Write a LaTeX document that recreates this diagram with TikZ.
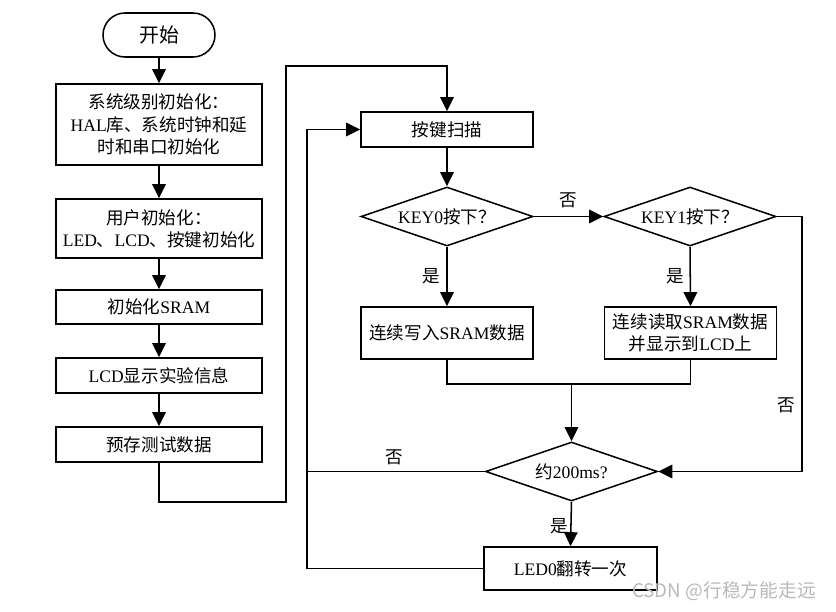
\documentclass[tikz,border=0pt]{standalone}
\usepackage{fontspec}
\setmainfont{Liberation Serif}
\newfontfamily\cjk{Noto Sans CJK SC}
\usetikzlibrary{shapes.geometric,arrows.meta}
\tikzset{
	box/.style={draw, rectangle, line width=1.3pt, minimum width=6.18cm, align=center, inner sep=1pt},
	term/.style={draw, rectangle, rounded corners=0.66cm, line width=1.3pt, minimum width=3.36cm, minimum height=1.32cm, font=\fontsize{17pt}{20pt}\selectfont},
	decide/.style={draw, diamond, aspect=2.9, line width=1.3pt, minimum width=5.16cm, minimum height=1.77cm, inner sep=0pt},
	lbl/.style={inner sep=1pt}
}
\begin{document}
\begin{tikzpicture}[x=0.03cm, y=-0.03cm, line width=1.3pt, >={Triangle[length=12pt,width=11.5pt]}, font=\fontsize{15pt}{19pt}\selectfont]
	\useasboundingbox (0,0) rectangle (836,611);
	% left column
	\node[term] (start) at (159,35) {{\cjk 开始}};
	\node[box, minimum height=2.43cm] (sysinit) at (159,124.5) {{\cjk 系统级别初始化：}\\HAL{\cjk 库、系统时钟和延}\\{\cjk 时和串口初始化}};
	\node[box, minimum height=1.77cm] (userinit) at (159,228.5) {{\cjk 用户初始化：}\\LED{\cjk 、}LCD{\cjk 、按键初始化}};
	\node[box, minimum height=1.02cm] (sram) at (159,307) {{\cjk 初始化}SRAM};
	\node[box, minimum height=1.05cm] (lcdinfo) at (159,375.5) {LCD{\cjk 显示实验信息}};
	\node[box, minimum height=1.05cm] (pretest) at (159,444.5) {{\cjk 预存测试数据}};
	% main loop
	\node[box, minimum width=5.16cm, minimum height=1.05cm] (scan) at (447,129.5) {{\cjk 按键扫描}};
	\node[decide] (key0) at (447,216.5) {KEY0{\cjk 按下？}};
	\node[decide] (key1) at (690,216.5) {KEY1{\cjk 按下？}};
	\node[box, minimum width=5.16cm, minimum height=1.56cm] (write) at (447,333) {{\cjk 连续写入}SRAM{\cjk 数据}};
	\node[box, minimum width=5.16cm, minimum height=1.56cm] (read) at (690.5,333) {{\cjk 连续读取}SRAM{\cjk 数据}\\{\cjk 并显示到}LCD{\cjk 上}};
	\node[decide] (wait) at (571.5,471.5) {{\cjk 约}200ms?};
	\node[box, minimum width=5.19cm, minimum height=1.29cm] (led) at (570.5,568.5) {LED0{\cjk 翻转一次}};

	\coordinate (low) at (286,502);
	\coordinate (high) at (286,66);
	\coordinate (merge) at (571.5,384);
	\coordinate (rside) at (802,471.5);
	\coordinate (lnoend) at (307,471.5);
	\coordinate (lback) at (307,129.5);

	\path[draw,->] (start) -- (sysinit);
	\path[draw,->] (sysinit) -- (userinit);
	\path[draw,->] (userinit) -- (sram);
	\path[draw,->] (sram) -- (lcdinfo);
	\path[draw,->] (lcdinfo) -- (pretest);
	\path[draw,->] (pretest.south) |- (low) -- (high) -| (scan.north);
	\path[draw,->] (scan) -- (key0);
	\path[draw,->] (key0.east) -- node[lbl, above=6pt] (no0) {\cjk 否} (key1.west);
	\path[draw,->] (key0.south) -- node[lbl, left=4pt, pos=0.5] (yes0) {\cjk 是} (write.north);
	\path[draw,->] (key1.south) -- node[lbl, left=4pt, pos=0.5] (yes1) {\cjk 是} (read.north);
	\path[draw,->] (key1.east) -| node[lbl, pos=0.87, left=4pt] (no1) {\cjk 否} (rside) -- (wait.east);
	\draw (write.south) |- (merge) -| (read.south);
	\path[draw,->] (merge) -- (wait.north);
	\path[draw,->] (wait.south) -- node[lbl, left=1pt, pos=0.55] (yes2) {\cjk 是} (led.north);
	\draw (wait.west) -- node[lbl, above=4pt, pos=0.51] (no2) {\cjk 否} (lnoend);
	\path[draw,->] (led.west) -| (lback) -- (scan.west);

	\node[text=gray!55, font=\fontsize{16pt}{18pt}\cjk] (mark) at (724,591) {CSDN @行稳方能走远};
\end{tikzpicture}
\end{document}
